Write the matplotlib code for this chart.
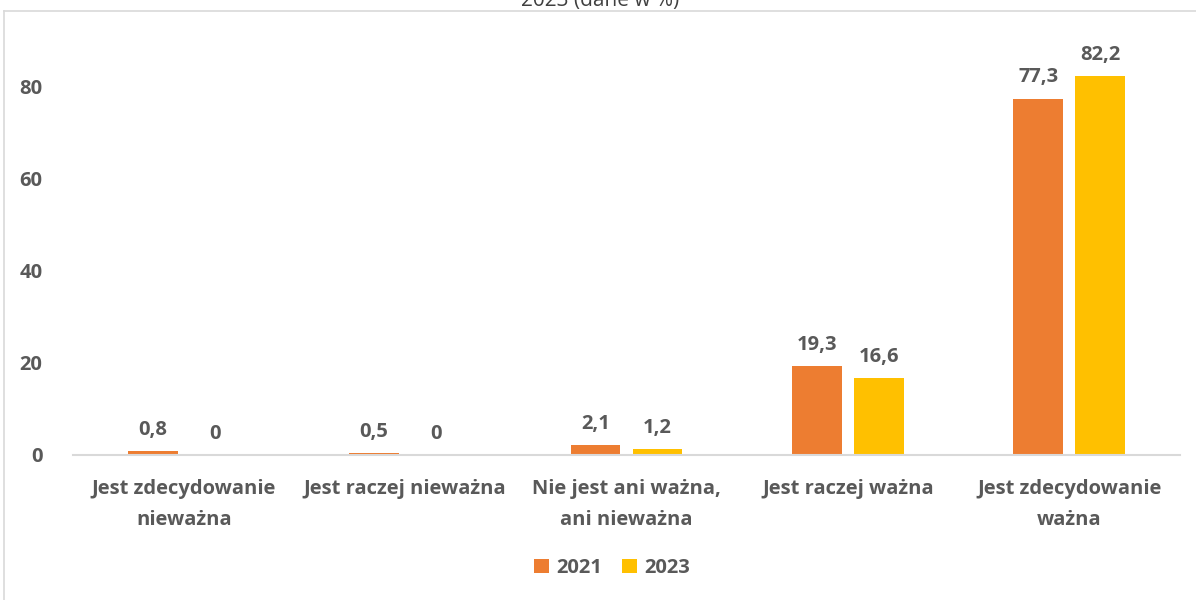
import matplotlib.pyplot as plt
import numpy as np
from matplotlib.lines import Line2D

categories = ["Jest zdecydowanie\nnieważna", "Jest raczej nieważna",
              "Nie jest ani ważna,\nani nieważna", "Jest raczej ważna",
              "Jest zdecydowanie\nważna"]
values_2021 = [0.8, 0.5, 2.1, 19.3, 77.3]
values_2023 = [0, 0, 1.2, 16.6, 82.2]
years = ["2021", "2023"]
yticks = [0, 20, 40, 60, 80]

ORANGE = "#ED7D31"
YELLOW = "#FFC000"
TEXT = "#595959"

plt.rcParams['font.family'] = ['Open Sans', 'DejaVu Sans']

fig = plt.figure(figsize=(11.96, 6), dpi=100)
ax = fig.add_axes([73 / 1196, 1 - 455 / 600, (1180 - 73) / 1196, 438 / 600])

x = np.arange(len(categories))
w = 0.225
off = 0.14
b1 = ax.bar(x - off, values_2021, w, color=ORANGE, label=years[0])
b2 = ax.bar(x + off, values_2023, w, color=YELLOW, label=years[1])

def fmt(v):
    return ("%g" % v).replace(".", ",")

for bars, vals in ((b1, values_2021), (b2, values_2023)):
    for rect, v in zip(bars, vals):
        ax.annotate(fmt(v), (rect.get_x() + rect.get_width() / 2, v),
                    xytext=(0, 8), textcoords="offset points",
                    ha="center", va="bottom", fontsize=14.5,
                    fontweight="bold", color=TEXT)

ax.set_xlim(-0.5, len(categories) - 0.5)
ax.set_ylim(0, 95)
ax.set_yticks(yticks)
ax.set_yticklabels([str(t) for t in yticks], fontsize=14.5, fontweight="bold", color=TEXT)
ax.set_xticks(x)
ax.set_xticklabels(categories, fontsize=14.5, fontweight="bold", color=TEXT, linespacing=1.75)
ax.tick_params(axis="both", length=0)
ax.tick_params(axis="y", pad=22)
ax.tick_params(axis="x", pad=17)
for s in ("top", "right", "left"):
    ax.spines[s].set_visible(False)
ax.spines["bottom"].set_color("#D9D9D9")
ax.spines["bottom"].set_linewidth(1.5)

leg = fig.legend(handles=[b1, b2], loc="center", bbox_to_anchor=(612 / 1196, 1 - 568 / 600),
                 ncol=2, frameon=False, handlelength=0.75, handleheight=0.75,
                 handletextpad=0.35, columnspacing=1.0,
                 prop={"size": 14.5, "weight": "bold"})
for t in leg.get_texts():
    t.set_color(TEXT)

# chart frame (left and top edges) and the clipped title
fig.add_artist(Line2D([4 / 1196, 4 / 1196], [0, 1 - 11 / 600], color="#D9D9D9", lw=1.2))
fig.add_artist(Line2D([4 / 1196, 1], [1 - 11 / 600, 1 - 11 / 600], color="#D9D9D9", lw=1.2))
fig.text(600 / 1196, 1 - 6 / 600, "2023 (dane w %)", ha="center", va="baseline",
         fontsize=15, color="#404040")

fig.savefig("out.png", dpi=100)
